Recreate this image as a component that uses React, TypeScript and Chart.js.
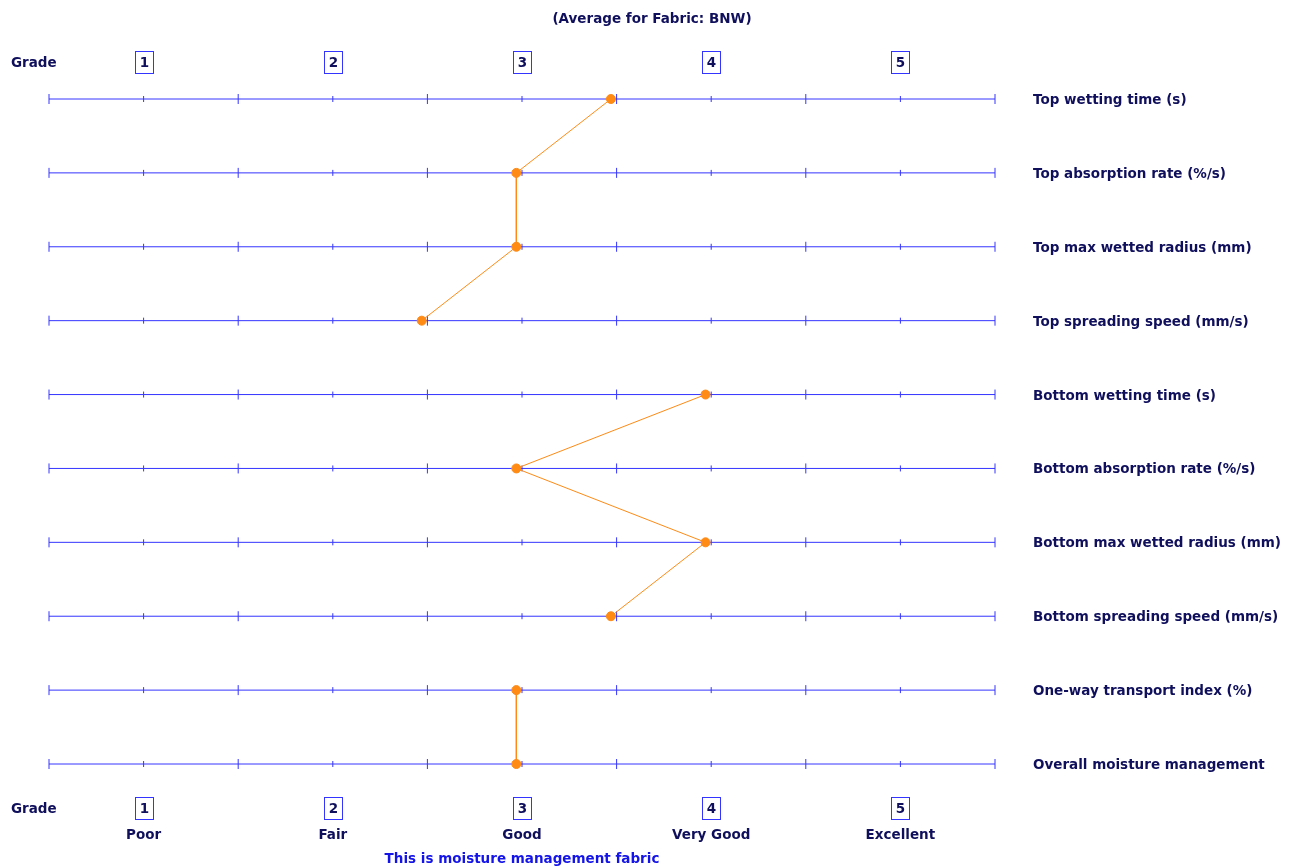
import React, { useEffect, useRef } from "react";
import { Chart, registerables } from "chart.js";

Chart.register(...registerables);

const TITLE = "(Average for Fabric: BNW)";
const FOOTNOTE = "This is moisture management fabric";
const AXIS_NAME = "Grade";
const PROPERTIES = [
  "Top wetting time (s)",
  "Top absorption rate (%/s)",
  "Top max wetted radius (mm)",
  "Top spreading speed (mm/s)",
  "Bottom wetting time (s)",
  "Bottom absorption rate (%/s)",
  "Bottom max wetted radius (mm)",
  "Bottom spreading speed (mm/s)",
  "One-way transport index (%)",
  "Overall moisture management",
];
const GRADES = [3.47, 2.97, 2.97, 2.47, 3.97, 2.97, 3.97, 3.47, 2.97, 2.97];
// indices after which the orange profile line is broken (group boundaries)
const GROUP_ENDS = [3, 7];
const TICK_GRADES = [0.5, 1, 1.5, 2, 2.5, 3, 3.5, 4, 4.5, 5, 5.5];
const GRADE_VALUES = [1, 2, 3, 4, 5];
const GRADE_LABELS = ["1", "2", "3", "4", "5"];
const RATING_LABELS = ["Poor", "Fair", "Good", "Very Good", "Excellent"];

const NAVY = "#0f0f5c";
const BLUE = "#3434ff";
const ORANGE = "#ff8a14";
const FONT = 'bold 13.5px "DejaVu Sans", Verdana, sans-serif';

const textPlugin = {
  id: "mmtText",
  afterDraw(chart: any) {
    const { ctx, scales } = chart;
    const xs = scales.x;
    const ys = scales.y;
    const area = chart.chartArea;
    ctx.save();
    ctx.font = FONT;
    ctx.textBaseline = "middle";
    ctx.fillStyle = NAVY;

    ctx.textAlign = "center";
    ctx.fillText(TITLE, 652, 19.5);

    const drawGradeRow = (y: number) => {
      ctx.textAlign = "left";
      ctx.fillStyle = NAVY;
      ctx.fillText(AXIS_NAME, 11, y + 1.5);
      GRADE_VALUES.forEach((g, i) => {
        const cx = Math.round(xs.getPixelForValue(g));
        ctx.strokeStyle = BLUE;
        ctx.lineWidth = 1;
        ctx.strokeRect(cx - 8.5, y - 10.5, 18, 22);
        ctx.textAlign = "center";
        ctx.fillStyle = NAVY;
        ctx.fillText(GRADE_LABELS[i], cx + 0.5, y + 1.5);
      });
    };
    drawGradeRow(62);
    drawGradeRow(808);

    ctx.textAlign = "center";
    GRADE_VALUES.forEach((g, i) => {
      ctx.fillText(RATING_LABELS[i], xs.getPixelForValue(g), 835.5);
    });

    ctx.textAlign = "left";
    PROPERTIES.forEach((p, i) => {
      ctx.fillText(p, area.right + 38, ys.getPixelForValue(i) + 1.5);
    });

    ctx.fillStyle = "#1414e8";
    ctx.textAlign = "center";
    ctx.fillText(FOOTNOTE, (area.left + area.right) / 2, 859.5);
    ctx.restore();
  },
};

export default function App() {
  const ref = useRef<HTMLCanvasElement>(null);
  useEffect(() => {
    if (!ref.current) return;
    const rowSets = PROPERTIES.map((_, i) => ({
      label: "row" + i,
      data: TICK_GRADES.map((g) => ({ x: g, y: i })),
      showLine: true,
      borderColor: BLUE,
      borderWidth: 1,
      pointStyle: "line",
      rotation: 90,
      pointRadius: (c: any) => (Number.isInteger(c.raw?.x) ? 3 : 5),
      pointBorderColor: BLUE,
      pointBorderWidth: 1,
      clip: false,
    }));
    const chart = new Chart(ref.current, {
      type: "scatter",
      data: {
        datasets: [
          {
            label: "grades",
            data: GRADES.map((g, i) => ({ x: g, y: i })),
            showLine: true,
            borderColor: ORANGE,
            borderWidth: 1,
            segment: {
              borderColor: (c: any) =>
                GROUP_ENDS.includes(c.p0DataIndex) ? "rgba(0,0,0,0)" : ORANGE,
            },
            pointStyle: "circle",
            pointRadius: 4.5,
            pointBackgroundColor: ORANGE,
            pointBorderColor: ORANGE,
            pointBorderWidth: 1,
            clip: false,
          } as any,
          ...(rowSets as any[]),
        ],
      },
      options: {
        animation: false,
        responsive: true,
        maintainAspectRatio: false,
        events: [],
        layout: { padding: { left: 49, right: 295, top: 99, bottom: 104 } },
        plugins: { legend: { display: false }, tooltip: { enabled: false } },
        scales: {
          x: { type: "linear", min: 0.5, max: 5.5, display: false },
          y: { type: "linear", min: 0, max: PROPERTIES.length - 1, reverse: true, display: false },
        },
      },
      plugins: [textPlugin],
    });
    return () => chart.destroy();
  }, []);
  return (
    <div style={{ position: "fixed", left: 0, top: 0, width: 1290, height: 868, background: "#fff" }}>
      <canvas ref={ref} />
    </div>
  );
}
